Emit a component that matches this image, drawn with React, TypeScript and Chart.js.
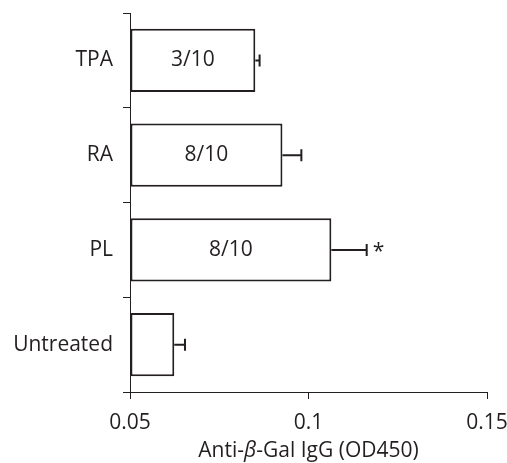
import { useEffect, useRef } from "react";
import { Chart, registerables } from "chart.js";

Chart.register(...registerables);

const categories = ["TPA", "RA", "PL", "Untreated"];
const values = [0.0851, 0.0927, 0.1064, 0.0624];
const errors = [0.0012, 0.0053, 0.0099, 0.003];
const barLabels = ["3/10", "8/10", "8/10", ""];
const significance = ["", "", "*", ""];
const xTicks = [0.05, 0.1, 0.15];
const xTitleParts: [string, boolean][] = [
  ["Anti-", false],
  ["β", true],
  ["-Gal IgG (OD450)", false],
];

const INK = "#231f20";
const FAMILY = "'Open Sans', 'Noto Sans', sans-serif";
const W = 507;
const H = 463;

const overlayPlugin = {
  id: "overlay",
  afterDatasetsDraw(chart: any) {
    const ctx = chart.ctx;
    const meta = chart.getDatasetMeta(0);
    const xs = chart.scales.x;
    ctx.save();
    meta.data.forEach((bar: any, i: number) => {
      const y = bar.y;
      const x0 = bar.x;
      const x1 = xs.getPixelForValue(values[i] + errors[i]);
      ctx.strokeStyle = INK;
      ctx.lineWidth = 2;
      ctx.beginPath();
      ctx.moveTo(x0, y);
      ctx.lineTo(x1, y);
      ctx.moveTo(x1, y - 6);
      ctx.lineTo(x1, y + 6);
      ctx.stroke();
      ctx.fillStyle = INK;
      if (barLabels[i]) {
        ctx.font = `21px ${FAMILY}`;
        ctx.textAlign = "center";
        ctx.textBaseline = "middle";
        ctx.fillText(barLabels[i], (bar.base + bar.x) / 2, y);
      }
      if (significance[i]) {
        ctx.font = `21px ${FAMILY}`;
        ctx.textAlign = "left";
        ctx.textBaseline = "middle";
        ctx.fillText(significance[i], x1 + 6, y + 2);
      }
    });
    ctx.restore();
  },
  afterDraw(chart: any) {
    const ctx = chart.ctx;
    const area = chart.chartArea;
    ctx.save();
    ctx.fillStyle = INK;
    ctx.textBaseline = "alphabetic";
    ctx.textAlign = "left";
    const fonts = xTitleParts.map(([, it]) => `${it ? "italic " : ""}21px ${FAMILY}`);
    let total = 0;
    const widths = xTitleParts.map(([t], i) => {
      ctx.font = fonts[i];
      const w = ctx.measureText(t).width;
      total += w;
      return w;
    });
    let x = (area.left + area.right) / 2 - total / 2;
    const y = 457;
    xTitleParts.forEach(([t], i) => {
      ctx.font = fonts[i];
      ctx.fillText(t, x, y);
      x += widths[i];
    });
    ctx.restore();
  },
};

export default function App() {
  const ref = useRef<HTMLCanvasElement | null>(null);
  useEffect(() => {
    if (!ref.current) return;
    const chart = new Chart(ref.current, {
      type: "bar",
      data: {
        labels: categories,
        datasets: [
          {
            data: values,
            base: xTicks[0],
            backgroundColor: "#ffffff",
            borderColor: INK,
            borderWidth: 2,
            borderSkipped: false,
            categoryPercentage: 0.67,
            barPercentage: 1,
          } as any,
        ],
      },
      options: {
        indexAxis: "y",
        animation: false,
        responsive: true,
        maintainAspectRatio: false,
        layout: { padding: { top: 13, right: 20, left: 0, bottom: 0 } },
        plugins: {
          legend: { display: false },
          tooltip: { enabled: false },
        },
        scales: {
          x: {
            type: "linear",
            min: xTicks[0],
            max: xTicks[xTicks.length - 1],
            afterBuildTicks: (s: any) => {
              s.ticks = xTicks.map((v) => ({ value: v }));
            },
            afterFit: (s: any) => {
              s.height = 71;
              s.paddingLeft = 0;
              s.paddingRight = 0;
            },
            ticks: {
              autoSkip: false,
              maxRotation: 0,
              padding: 11,
              color: INK,
              font: { family: FAMILY, size: 21 },
              callback: (v: any) => String(v),
            },
            grid: {
              drawOnChartArea: false,
              tickLength: 7,
              color: INK,
              lineWidth: 1,
            },
            border: { color: INK, width: 1 },
          },
          y: {
            type: "category",
            afterFit: (s: any) => {
              s.width = 130;
              s.paddingTop = 0;
              s.paddingBottom = 0;
            },
            ticks: {
              padding: 10,
              color: INK,
              font: { family: FAMILY, size: 21 },
            },
            grid: {
              offset: true,
              drawOnChartArea: false,
              tickLength: 7,
              color: INK,
              lineWidth: 1,
            },
            border: { color: INK, width: 1 },
          },
        },
      },
      plugins: [overlayPlugin],
    });
    return () => chart.destroy();
  }, []);
  return (
    <div style={{ position: "fixed", left: 0, top: 0, width: W, height: H, background: "#fff" }}>
      <canvas ref={ref} />
    </div>
  );
}
